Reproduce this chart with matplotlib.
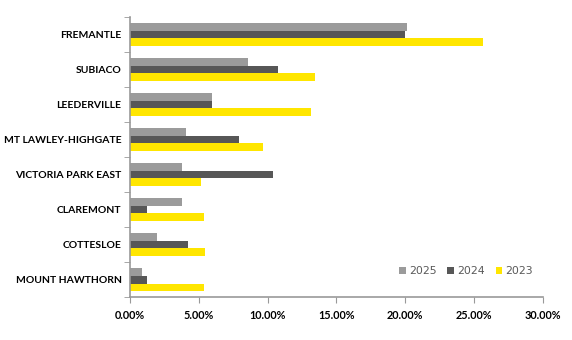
import numpy as np
import matplotlib.pyplot as plt
from matplotlib.ticker import PercentFormatter, FixedLocator

suburbs = ["FREMANTLE", "SUBIACO", "LEEDERVILLE", "MT LAWLEY-HIGHGATE",
           "VICTORIA PARK EAST", "CLAREMONT", "COTTESLOE", "MOUNT HAWTHORN"]
years = ["2025", "2024", "2023"]
v2025 = [20.1, 8.55, 6.0, 4.1, 3.8, 3.8, 1.95, 0.9]
v2024 = [20.0, 10.77, 6.0, 7.9, 10.43, 1.28, 4.2, 1.28]
v2023 = [25.66, 13.43, 13.15, 9.66, 5.16, 5.4, 5.45, 5.4]
colours = ["#9b9b9b", "#575757", "#ffe600"]

plt.rcParams["font.family"] = ["Lato", "DejaVu Sans"]

fig = plt.figure(figsize=(5.72, 3.4), dpi=100)
ax = fig.add_axes([0.227, 0.126, 0.722, 0.824])

y = np.arange(len(suburbs))
h = 0.22
for i, (vals, lab, c) in enumerate(zip([v2025, v2024, v2023], years, colours)):
    ax.barh(y + (i - 1) * h, vals, height=h, color=c, label=lab)

ax.set_ylim(len(suburbs) - 0.5, -0.5)
ax.set_xlim(0, 30)
ax.set_yticks(y)
ax.set_yticklabels(suburbs, fontsize=7.5, fontweight="bold")
ax.yaxis.set_minor_locator(FixedLocator(np.arange(-0.5, len(suburbs), 1)))
ax.tick_params(axis="y", which="major", length=0, pad=6)
ax.tick_params(axis="y", which="minor", length=4, color="#999999", direction="out")
ax.set_xticks(np.arange(0, 31, 5))
ax.xaxis.set_major_formatter(PercentFormatter(decimals=2))
ax.tick_params(axis="x", length=4, color="#999999", labelsize=7.8, pad=5)
for lbl in ax.get_xticklabels():
    lbl.set_fontweight("bold")

for s in ["top", "right"]:
    ax.spines[s].set_visible(False)
for s in ["left", "bottom"]:
    ax.spines[s].set_color("#999999")
    ax.spines[s].set_linewidth(1.2)

leg = ax.legend(loc="lower right", bbox_to_anchor=(1.0, 0.04), ncol=3, frameon=False,
                handlelength=0.6, handleheight=0.6, handletextpad=0.3,
                columnspacing=1.0, prop={"family": "DejaVu Sans", "size": 7.8})
for t in leg.get_texts():
    t.set_color("#595959")

fig.savefig("out.png", dpi=100)
